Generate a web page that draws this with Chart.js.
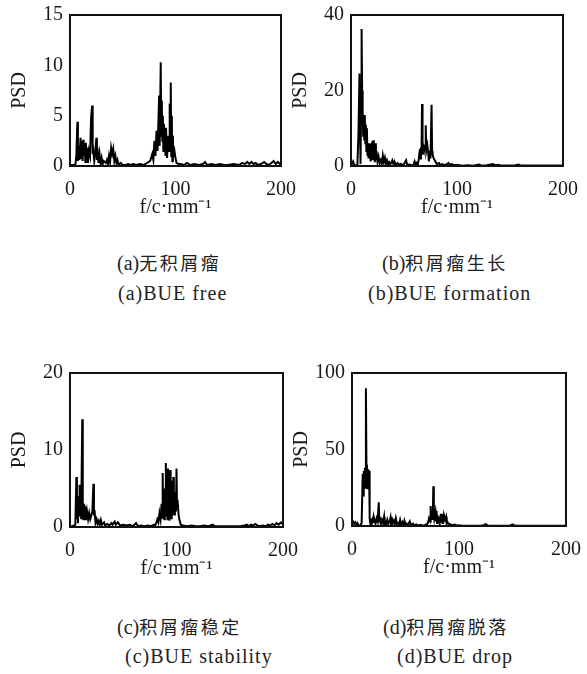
<!DOCTYPE html>
<html>
<head>
<meta charset="utf-8">
<script src="https://cdn.jsdelivr.net/npm/chart.js@4"></script>
<style>
  body { margin: 0; background: #fff; width: 587px; height: 674px; position: relative; overflow: hidden; }
  canvas { position: absolute; }
  .cap { position: absolute; font-family: "Liberation Serif", "Noto Sans CJK SC", serif; font-size: 20px; color: #222; white-space: nowrap; line-height: 1; }
  .en { letter-spacing: 1px; }
  .cn { font-size: 18px; letter-spacing: 2.5px; }
</style>
</head>
<body>
<canvas id="chartA" width="300" height="240"></canvas>
<canvas id="chartB" width="300" height="240"></canvas>
<canvas id="chartC" width="300" height="240"></canvas>
<canvas id="chartD" width="300" height="240"></canvas>

<div class="cap" style="left:117px;top:253px">(a)<span class="cn">无积屑瘤</span></div>
<div class="cap en" style="left:118px;top:283px">(a)BUE free</div>
<div class="cap" style="left:382px;top:253px">(b)<span class="cn">积屑瘤生长</span></div>
<div class="cap en" style="left:368px;top:283px">(b)BUE formation</div>
<div class="cap" style="left:117px;top:617px">(c)<span class="cn">积屑瘤稳定</span></div>
<div class="cap en" style="left:125px;top:646px">(c)BUE stability</div>
<div class="cap" style="left:383px;top:617px">(d)<span class="cn">积屑瘤脱落</span></div>
<div class="cap en" style="left:397px;top:646px">(d)BUE drop</div>

<script>
// PSD spectra (f in c/mm)

// (a) BUE free
const freqA = [0,3,5,6,7,7.5,8,9,10,10.5,
  11,12,12.5,13,14,14.5,15,16,16.5,17,
  18,19,20,21,21.5,22,23,24,25,25.5,
  26,27,28,29,30,31,32,34,35,36,
  37,38,39,40,41,42,43,44,45,46,
  48,50,53,55,58,60,63,66,70,73,
  76,78,79,80,81,82,83,84.5,85,86,
  86.5,87,87.5,88,88.5,89,89.5,90,90.5,91,
  92,93,94,94.5,95,95.5,96,96.5,97,97.5,
  98,99,100,101,103,105,108,111,114,118,
  122,126,128,130,134,138,142,146,150,155,
  160,163,166,168,170,172,174,176,178,181,
  184,186,188,191,193,195,197,199,200];
const psdA = [0.1,0.1,0.05,1.0,4.4,0.5,2.0,0.6,2.8,0.8,
  2.5,0.5,2.6,1.0,2.2,0.4,2.3,0.8,1.8,0.3,
  1.5,1.0,4.8,6.0,1.2,1.6,0.5,1.4,2.8,0.6,
  1.8,0.3,1.2,0.2,0.8,0.2,0.5,0.3,0.6,0.2,
  1.0,0.4,1.8,1.2,1.7,0.5,1.0,0.3,0.6,0.1,
  0.3,0.1,0.1,0.2,0.1,0.2,0.1,0.2,0.1,0.3,
  0.5,1.2,0.6,2.5,1.0,3.5,1.5,7.0,2.0,10.3,
  3.0,6.5,2.5,5.0,1.5,4.2,2.0,3.5,1.0,3.8,
  0.8,3.0,1.5,6.2,2.0,8.3,1.0,5.0,0.5,3.0,
  1.0,1.5,0.8,0.3,0.2,0.2,0.1,0.3,0.1,0.2,
  0.1,0.2,0.4,0.1,0.2,0.1,0.2,0.1,0.1,0.2,
  0.1,0.3,0.2,0.4,0.2,0.4,0.2,0.3,0.1,0.2,
  0.4,0.2,0.1,0.3,0.5,0.2,0.4,0.2,0.1];

// (b) BUE formation
const freqB = [0,1,2,3,4,5,6,7,8,8.5,
  9,9.5,10,10.5,11,11.5,12,12.5,13,13.5,
  14,14.5,15,15.5,16,16.5,17,18,18.5,19,
  19.5,20,20.5,21,21.5,22,22.5,23,23.5,24,
  25,26,27,28,29,30,31,32,33,34,
  35,36,37,38,39,40,41,42,44,45,
  47,48,50,52,53,55,57,59,60,61,
  62,63,64,65,65.5,66,66.5,67,67.5,68,
  69,70,70.5,71,72,73,73.5,74,75,76,
  76.5,77,78,79,80,81,83,84,86,88,
  90,92,93,95,97,100,105,110,115,119,
  121,123,128,132,134,136,139,142,148,155,
  158,160,165,170,180,190,200];
const psdB = [1.0,0.6,1.2,0.4,0.2,0.1,0.2,8.0,24.5,10,
  0.5,15,36.3,20,14.5,8,13.5,7,13.5,6,
  11,4,10,3,5,2,6,4,1.2,6,
  2,6.5,1.5,6.8,2,5,1,6,1.5,4,
  1.2,2.5,0.8,1.5,0.6,2.8,1.0,2.2,0.6,1.5,
  0.4,1.0,0.5,0.8,1.5,0.6,1.2,0.3,0.8,0.3,
  0.6,0.2,0.5,1.5,0.3,0.4,0.2,0.3,1.2,0.4,
  0.8,0.3,2.0,4.5,2,5,3,16.4,3,5.5,
  4.0,5.5,10.8,4,5.5,3,1.2,4,2,16.2,
  4,3,2,1.5,1.0,0.5,0.8,0.3,0.5,0.2,
  0.4,0.8,0.3,0.5,0.2,0.3,0.1,0.2,0.1,0.3,
  0.4,0.1,0.2,0.4,0.5,0.2,0.3,0.1,0.1,0.2,
  0.4,0.1,0.1,0.1,0.1,0.1,0.1];

// (c) BUE stability
const freqC = [0,2,4,5,6,6.5,7,7.5,8,8.5,
  9,9.5,10,10.5,11.5,12,12.5,13,13.5,14,
  14.5,15,15.5,16,17,18,19,20,21,22,
  22.5,23,24,25,26,27,28,29,30,32,
  33,35,37,39,40,42,43,45,47,50,
  53,56,59,62,64,67,70,73,76,79,
  80,81,82,83,84,85,86,86.5,87,87.5,
  88,88.5,89,89.5,90,90.5,91,91.5,92,92.5,
  93,93.5,94,94.5,95,95.5,96,96.5,97,97.5,
  98,98.5,99,99.5,100,100.5,101,102,103,104,
  106,110,114,118,122,126,130,134,136,140,
  145,150,155,160,164,166,168,170,172,174,
  176,178,181,184,186,188,190,192,194,196,
  198,200];
const psdC = [0.1,0.1,0.2,0.3,6.5,1.0,3.5,0.5,4.0,1.5,
  5.5,2.0,4.5,1.0,14.0,3.0,1.0,3.0,1.2,2.8,
  1.0,2.6,1.3,2.0,1.0,1.8,1.0,1.5,2.0,5.6,
  1.5,2.2,0.5,1.0,0.4,0.8,0.3,0.9,0.3,0.6,
  0.2,0.4,0.2,0.5,0.3,0.7,0.3,0.6,0.2,0.3,
  0.2,0.3,0.1,0.5,0.1,0.2,0.1,0.2,0.1,0.3,
  0.2,0.5,1.0,0.6,1.8,1.0,3.0,1.2,7.0,2.0,
  4.0,1.0,5.0,2.5,8.3,1.5,6.0,1.0,7.6,2.5,
  3.5,0.8,7.4,2.0,4.0,1.0,6.0,1.5,6.5,2.0,
  3.0,1.5,4.5,2.0,7.6,2.5,3.5,1.5,0.8,0.3,
  0.2,0.1,0.2,0.1,0.1,0.2,0.1,0.3,0.1,0.1,
  0.1,0.1,0.1,0.1,0.2,0.3,0.1,0.3,0.2,0.4,
  0.2,0.1,0.2,0.1,0.3,0.2,0.4,0.2,0.5,0.3,
  0.6,0.3];

// (d) BUE drop
const freqD = [0,1,2,3,4,5,6,7,8,9,
  10,10.5,11,11.5,12,12.5,13,13.5,14,14.5,
  15,15.5,16,16.5,17,17.5,18,18.5,19,20,
  20.5,21,22,23,24,25,25.5,26,27,28,
  29,30,30.5,31,32,33,34,35,36,36.5,
  37,38,39,40,41,42,43,44,45,46,
  47,48,49,50,51,52,54,55,57,58,
  60,62,64,66,68,70,71,72,73,73.5,
  74,75,75.5,76,76.5,77,78,78.5,79,79.5,
  80,80.5,81,82,83,83.5,84,84.5,85,85.5,
  86,87,88,88.5,89,90,92,94,96,98,
  100,103,106,110,115,120,123,125,127,130,
  135,140,145,148,150,152,155,160,170,180,
  190,200];
const psdD = [4,3,1.5,2.5,1,2,0.5,0.3,0.5,2,
  34,20,36,28,38,25,90,40,32,24,
  37,30,36,5,2,0.5,5,1,3,6,
  2,4,1.5,5,3,15.5,3,6,1,4,
  2,6,1.5,3,1,4,1.5,2.5,5.5,1,
  6,2,3.5,1,5,1.5,2,0.5,4,1,
  2.5,0.5,3.5,0.8,1.5,0.3,3,0.5,1.5,0.3,
  1.0,0.3,0.8,0.2,0.5,1.2,2,5,3,13,
  5,8,4,26,10,5,9,3,10,2,
  7,3,6,2,8,3,6,2,8,3,
  7,4,6,2,3,1.5,1,0.5,1.0,0.3,
  0.5,0.2,0.1,0.1,0.1,0.2,0.5,1.2,0.3,0.1,
  0.1,0.1,0.1,0.4,1.0,0.3,0.1,0.1,0.1,0.1,
  0.1,0.1];

const xTicks = [0, 100, 200];
const xTitle = 'f/c·mm⁻¹';
const yTitle = 'PSD';

const font = { family: "'Liberation Serif', 'Times New Roman', serif", size: 20, lineHeight: 1 };

// box frame round the plot area, like the matlab axes
const frame = {
  id: 'frame',
  afterDraw(chart) {
    const a = chart.chartArea;
    const ctx = chart.ctx;
    ctx.save();
    ctx.strokeStyle = '#111';
    ctx.lineWidth = 2;
    ctx.strokeRect(a.left, a.top, a.right - a.left, a.bottom - a.top);
    ctx.restore();
  }
};

function makeChart(id, freq, psd, yMax, yStep, box) {
  const canvas = document.getElementById(id);
  const chart = new Chart(canvas, {
    type: 'line',
    data: {
      datasets: [{
        data: freq.map((f, i) => ({ x: f, y: psd[i] })),
        borderColor: '#000',
        borderWidth: 2,
        pointRadius: 0,
        tension: 0,
        fill: false
      }]
    },
    options: {
      responsive: false,
      maintainAspectRatio: false,
      animation: false,
      plugins: { legend: { display: false }, tooltip: { enabled: false } },
      scales: {
        x: {
          type: 'linear', min: 0, max: 200,
          grid: { display: false, drawTicks: false },
          border: { display: false },
          afterBuildTicks: s => { s.ticks = xTicks.map(v => ({ value: v })); },
          ticks: { padding: 14, color: '#1a1a1a', font: font, maxRotation: 0 },
          title: { display: true, text: xTitle, color: '#1a1a1a', font: font, padding: { top: -16, bottom: 0 } }
        },
        y: {
          min: 0, max: yMax,
          grid: { display: false, drawTicks: false },
          border: { display: false },
          ticks: { stepSize: yStep, padding: 7, color: '#1a1a1a', font: font },
          title: { display: true, text: yTitle, color: '#1a1a1a', font: font, padding: { top: 0, bottom: 0 } },
          afterFit: s => { s.width = 60; }
        }
      }
    },
    plugins: [frame]
  });

  // size the canvas so the plot area lands on the reference box
  const a = chart.chartArea;
  chart.resize(chart.width + box.w - (a.right - a.left), chart.height + box.h - (a.bottom - a.top));
  const b = chart.chartArea;
  canvas.style.left = (box.x - b.left) + 'px';
  canvas.style.top = (box.y - b.top) + 'px';
  return chart;
}

makeChart('chartA', freqA, psdA, 15, 5, { x: 70, y: 15, w: 211, h: 151 });
makeChart('chartB', freqB, psdB, 40, 20, { x: 351, y: 15, w: 212, h: 151 });
makeChart('chartC', freqC, psdC, 20, 10, { x: 70, y: 373, w: 213, h: 154 });
makeChart('chartD', freqD, psdD, 100, 50, { x: 352, y: 373, w: 214, h: 153 });
</script>
</body>
</html>
